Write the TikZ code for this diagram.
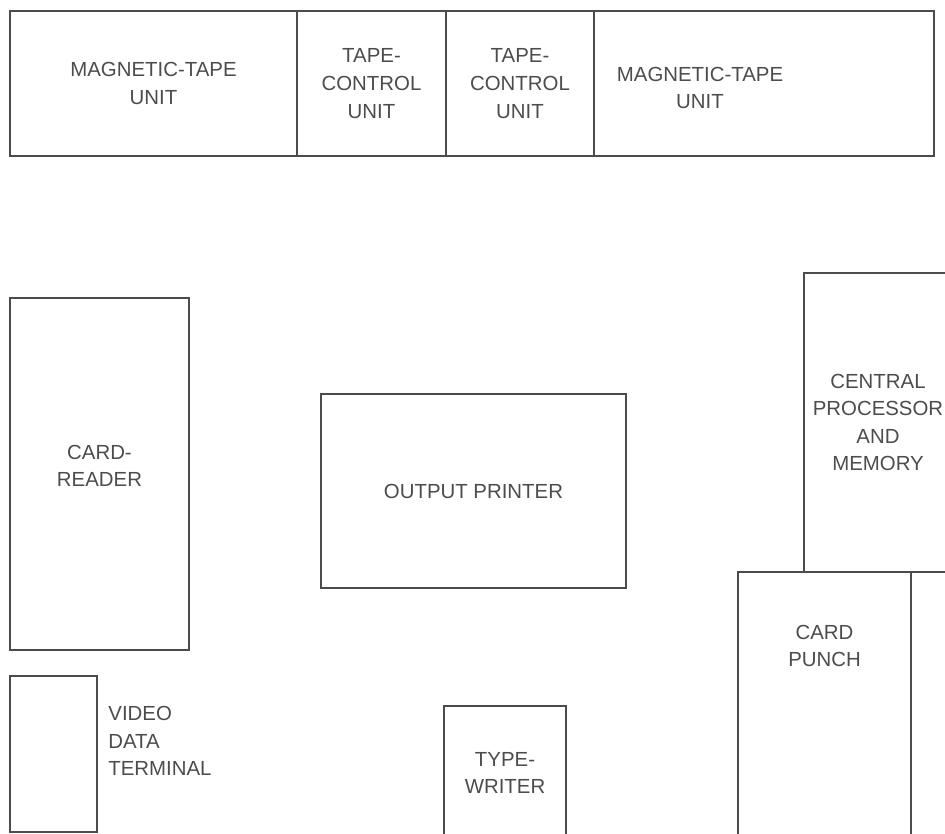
\documentclass[tikz,border=0pt]{standalone}
\usepackage{fontspec}
\setmainfont{Liberation Sans}
\usetikzlibrary{positioning}
\tikzstyle{unit} = [rectangle, draw=black!70, line width=0.7pt, inner sep=0pt, outer sep=0pt, align=center, text=black!70, font=\fontsize{10.2}{13.8}\selectfont]
\tikzstyle{unittext} = [inner sep=0pt, text=black!70, font=\fontsize{10.2}{13.8}\selectfont]

\begin{document}
\begin{tikzpicture}[x=0.5pt, y=-0.5pt]
\useasboundingbox (0,0) rectangle (945,833);
\clip (0,0) rectangle (945,833);

% Tape row
\node (mtape1) [unit, minimum width=143.5pt, minimum height=72.5pt] at (153.5,83.5) {MAGNETIC-TAPE\\UNIT};
\node (tctrl1) [unit, minimum width=74.5pt, minimum height=72.5pt, right=0pt of mtape1] {TAPE-\\CONTROL\\UNIT};
\node (tctrl2) [unit, minimum width=74pt, minimum height=72.5pt, right=0pt of tctrl1] {TAPE-\\CONTROL\\UNIT};
\node (mtape2) [unit, minimum width=170pt, minimum height=72.5pt, right=0pt of tctrl2] {};
\node (mtape2txt) [unittext, align=center] at (700,88) {MAGNETIC-TAPE\\UNIT};

% Card reader and printer
\node (reader) [unit, minimum width=89.5pt, minimum height=176pt] at (99.5,474) {};
\node (readertxt) [unittext, align=center] at (99.5,466) {CARD-\\READER};
\node (printer) [unit, minimum width=152.5pt, minimum height=97pt] at (473.5,491) {OUTPUT PRINTER};

% Processor and punch
\node (cpu) [unit, minimum width=74pt, minimum height=149.5pt] at (878,422.5) {CENTRAL\\PROCESSOR\\AND\\MEMORY};
\node (punch) [unit, minimum width=86.5pt, minimum height=164pt] at (824.5,736) {};
\node (punchtxt) [unittext, align=center] at (824.5,646) {CARD\\PUNCH};
\node (punchside) [unit, minimum width=44.5pt, minimum height=164pt, right=0pt of punch] {};

% Terminal and typewriter
\node (video) [unit, minimum width=43.5pt, minimum height=78pt] at (53.5,754) {};
\node (videotxt) [unittext, align=left, right=5.5pt of video, yshift=6.5pt] {VIDEO\\DATA\\TERMINAL};
\node (typewriter) [unit, minimum width=61pt, minimum height=67pt] at (505,773) {TYPE-\\WRITER};

\end{tikzpicture}
\end{document}
